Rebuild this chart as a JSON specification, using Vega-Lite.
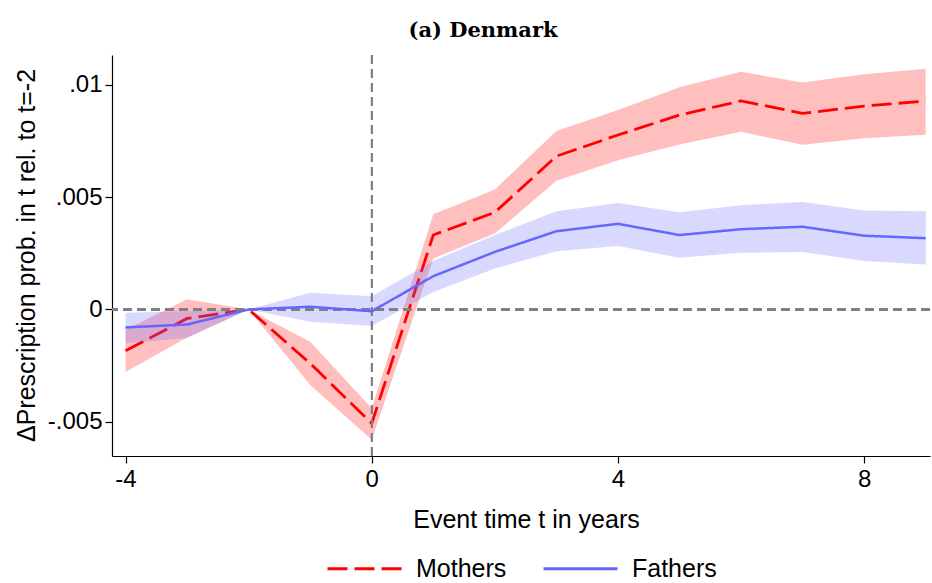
{
  "$schema": "https://vega.github.io/schema/vega-lite/v6.json",
  "width": 818,
  "height": 401,
  "autosize": {"type": "none"},
  "padding": {"left": 112, "top": 55, "right": 2, "bottom": 127},
  "background": "white",
  "title": {"text": "(a) Denmark", "font": "DejaVu Serif", "fontWeight": "bold", "fontSize": 21, "color": "#000000", "anchor": "middle", "baseline": "alphabetic", "offset": 23, "dx": -38, "dy": 27},
  "config": {
    "view": {"stroke": null},
    "axis": {
      "grid": false,
      "domainColor": "#000000",
      "domainWidth": 1.2,
      "tickColor": "#000000",
      "tickWidth": 1.2,
      "tickSize": 7,
      "labelFont": "Liberation Sans",
      "labelFontSize": 24,
      "labelColor": "#000000",
      "titleFont": "Liberation Sans",
      "titleFontSize": 25,
      "titleFontWeight": "normal",
      "titleColor": "#000000"
    },
    "legend": {
      "orient": "none",
      "legendX": 214,
      "legendY": 475,
      "direction": "horizontal",
      "symbolType": "stroke",
      "symbolSize": 5476,
      "symbolStrokeWidth": 2.8,
      "labelFont": "Liberation Sans",
      "labelFontSize": 25,
      "labelColor": "#000000",
      "labelOffset": 13,
      "columnPadding": 30
    }
  },
  "data": {"values": [
    {"t": -4, "group": "Mothers", "est": -0.00184, "lo": -0.00278, "hi": -0.0009},
    {"t": -3, "group": "Mothers", "est": -0.0004, "lo": -0.00125, "hi": 0.00045},
    {"t": -2, "group": "Mothers", "est": 0, "lo": 0, "hi": 0},
    {"t": -1, "group": "Mothers", "est": -0.0024, "lo": -0.00336, "hi": -0.00144},
    {"t": 0, "group": "Mothers", "est": -0.00507, "lo": -0.0058, "hi": -0.0044},
    {"t": 1, "group": "Mothers", "est": 0.00331, "lo": 0.00227, "hi": 0.00423},
    {"t": 2, "group": "Mothers", "est": 0.00432, "lo": 0.00338, "hi": 0.00534},
    {"t": 3, "group": "Mothers", "est": 0.00682, "lo": 0.00572, "hi": 0.00794},
    {"t": 4, "group": "Mothers", "est": 0.00776, "lo": 0.00664, "hi": 0.00887},
    {"t": 5, "group": "Mothers", "est": 0.00865, "lo": 0.00734, "hi": 0.00988},
    {"t": 6, "group": "Mothers", "est": 0.00928, "lo": 0.0079, "hi": 0.01057},
    {"t": 7, "group": "Mothers", "est": 0.00872, "lo": 0.00733, "hi": 0.0101},
    {"t": 8, "group": "Mothers", "est": 0.00905, "lo": 0.00762, "hi": 0.01046},
    {"t": 9, "group": "Mothers", "est": 0.00927, "lo": 0.00777, "hi": 0.01071},
    {"t": -4, "group": "Fathers", "est": -0.0008, "lo": -0.0015, "hi": -0.00015},
    {"t": -3, "group": "Fathers", "est": -0.00067, "lo": -0.00127, "hi": -0.00008},
    {"t": -2, "group": "Fathers", "est": 0, "lo": 0, "hi": 0},
    {"t": -1, "group": "Fathers", "est": 0.00012, "lo": -0.00055, "hi": 0.00074},
    {"t": 0, "group": "Fathers", "est": -0.00008, "lo": -0.00074, "hi": 0.00059},
    {"t": 1, "group": "Fathers", "est": 0.00148, "lo": 0.00078, "hi": 0.00216},
    {"t": 2, "group": "Fathers", "est": 0.00256, "lo": 0.00182, "hi": 0.00331},
    {"t": 3, "group": "Fathers", "est": 0.00348, "lo": 0.00259, "hi": 0.00437},
    {"t": 4, "group": "Fathers", "est": 0.00381, "lo": 0.00282, "hi": 0.00474},
    {"t": 5, "group": "Fathers", "est": 0.00331, "lo": 0.0023, "hi": 0.00432},
    {"t": 6, "group": "Fathers", "est": 0.00357, "lo": 0.00252, "hi": 0.00464},
    {"t": 7, "group": "Fathers", "est": 0.00368, "lo": 0.00256, "hi": 0.00478},
    {"t": 8, "group": "Fathers", "est": 0.00328, "lo": 0.00215, "hi": 0.0044},
    {"t": 9, "group": "Fathers", "est": 0.00317, "lo": 0.002, "hi": 0.00437}
  ]},
  "layer": [
    {
      "transform": [{"filter": "datum.group === 'Mothers'"}],
      "mark": {"type": "area", "color": "#ff0000", "opacity": 0.25},
      "encoding": {
        "x": {"field": "t", "type": "quantitative", "title": "Event time t in years",
              "scale": {"domain": [-4.22, 9.07], "nice": false, "zero": false},
              "axis": {"values": [-4, 0, 4, 8], "labelPadding": 4, "labelExpr": "toString(datum.value)", "titleBaseline": "alphabetic", "titleX": 414, "titleY": 71}},
        "y": {"field": "lo", "type": "quantitative", "title": "ΔPrescription prob. in t rel. to t=-2",
              "scale": {"domain": [-0.00652, 0.01132], "nice": false, "zero": false},
              "axis": {"values": [-0.005, 0, 0.005, 0.01], "labelPadding": 3,
                       "labelExpr": "datum.value == 0 ? '0' : replace(toString(datum.value), '0.', '.')",
                       "titleBaseline": "alphabetic", "titleAngle": 270, "titleAlign": "center", "titleX": -78, "titleY": 200}},
        "y2": {"field": "hi"}
      }
    },
    {
      "transform": [{"filter": "datum.group === 'Mothers'"}],
      "mark": {"type": "line", "strokeWidth": 2.8},
      "encoding": {
        "x": {"field": "t", "type": "quantitative", "title": "Event time t in years"},
        "y": {"field": "est", "type": "quantitative", "title": "ΔPrescription prob. in t rel. to t=-2"},
        "color": {"field": "group", "type": "nominal", "scale": {"domain": ["Mothers", "Fathers"], "range": ["#ff0000", "#6666ff"]}, "legend": {"title": null}},
        "strokeDash": {"field": "group", "type": "nominal", "scale": {"domain": ["Mothers", "Fathers"], "range": [[20, 7], [1, 0]]}, "legend": {"title": null}}
      }
    },
    {
      "transform": [{"filter": "datum.group === 'Fathers'"}],
      "mark": {"type": "area", "color": "#6666ff", "opacity": 0.25},
      "encoding": {
        "x": {"field": "t", "type": "quantitative", "title": "Event time t in years"},
        "y": {"field": "lo", "type": "quantitative", "title": "ΔPrescription prob. in t rel. to t=-2"},
        "y2": {"field": "hi"}
      }
    },
    {
      "mark": {"type": "rule", "color": "#808080", "strokeWidth": 1.5, "strokeDash": [9, 5]},
      "encoding": {"y": {"datum": 0}}
    },
    {
      "mark": {"type": "rule", "color": "#808080", "strokeWidth": 1.5, "strokeDash": [9, 5]},
      "encoding": {"x": {"datum": 0}}
    },
    {
      "transform": [{"filter": "datum.group === 'Fathers'"}],
      "mark": {"type": "line", "strokeWidth": 2.5},
      "encoding": {
        "x": {"field": "t", "type": "quantitative", "title": "Event time t in years"},
        "y": {"field": "est", "type": "quantitative", "title": "ΔPrescription prob. in t rel. to t=-2"},
        "color": {"field": "group", "type": "nominal", "scale": {"domain": ["Mothers", "Fathers"], "range": ["#ff0000", "#6666ff"]}, "legend": {"title": null}},
        "strokeDash": {"field": "group", "type": "nominal", "scale": {"domain": ["Mothers", "Fathers"], "range": [[20, 7], [1, 0]]}, "legend": {"title": null}}
      }
    }
  ]
}
